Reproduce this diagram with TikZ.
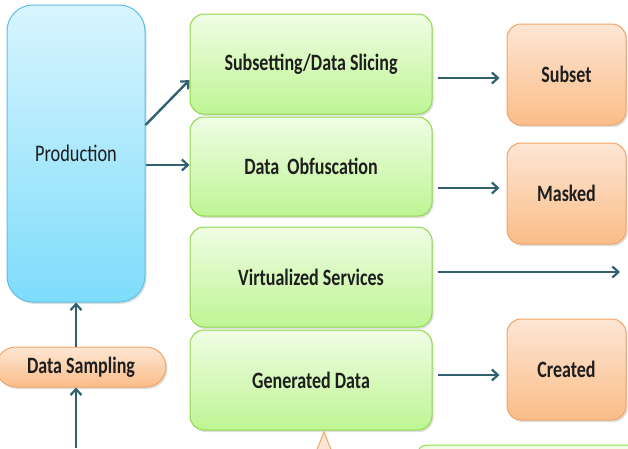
\documentclass[tikz,border=0pt]{standalone}
\usepackage{fontspec}
\setmainfont{Carlito}
\usetikzlibrary{arrows.meta,shadows}
\definecolor{arr}{HTML}{31606F}
\definecolor{cyT}{HTML}{D8F5FE}
\definecolor{cyB}{HTML}{7EDCFB}
\definecolor{cyD}{HTML}{5BC0E8}
\definecolor{grT}{HTML}{F0FDE4}
\definecolor{grB}{HTML}{BEF594}
\definecolor{grD}{HTML}{8ED84A}
\definecolor{orT}{HTML}{FDE6D4}
\definecolor{orB}{HTML}{FBBD88}
\definecolor{orD}{HTML}{F2A466}
\definecolor{txt}{HTML}{1E1E1E}
\newcommand{\tx}[1]{\scalebox{1}[1.3]{#1}}
\tikzset{
  x=1pt, y=-1pt,
  box/.style={rounded corners=14pt, line width=1pt, inner sep=0pt, text=txt,
    drop shadow={opacity=0.25, shadow xshift=1.5pt, shadow yshift=-2pt}},
  cyanbox/.style={box, draw=cyD, top color=cyT, bottom color=cyB, rounded corners=26pt},
  greenbox/.style={box, draw=grD, top color=grT, bottom color=grB},
  orangebox/.style={box, draw=orD, top color=orT, bottom color=orB},
  pill/.style={box, draw=orD, top color=orT, bottom color=orB, rounded corners=20pt},
  conn/.style={draw=arr, line width=2.4pt, -{Straight Barb[length=6pt,width=11pt,line width=2.2pt]}},
  lbl/.style={font=\fontsize{18}{20}\selectfont\bfseries, text=txt},
}
\begin{document}
\begin{tikzpicture}
\useasboundingbox (0,0) rectangle (628,448);
% Production
\node[cyanbox, minimum width=138pt, minimum height=297pt, font=\fontsize{18.3}{20}\selectfont] (prod) at (76,153.5) {\tx{Production}};
% green boxes
\node[greenbox, lbl, minimum width=242pt, minimum height=100pt] (g1) at (311,64) {\tx{Subsetting/Data Slicing}};
\node[greenbox, lbl, minimum width=242pt, minimum height=99pt] (g2) at (311,166.5) {\tx{Data\ \ Obfuscation}};
\node[greenbox, lbl, minimum width=242pt, minimum height=100pt] (g3) at (311,277) {\tx{Virtualized Services}};
\node[greenbox, lbl, minimum width=242pt, minimum height=100pt] (g4) at (311,380) {\tx{Generated Data}};
% orange boxes
\node[orangebox, lbl, minimum width=119pt, minimum height=101pt] (o1) at (566.5,74.5) {\tx{Subset}};
\node[orangebox, lbl, minimum width=119pt, minimum height=101pt] (o2) at (566.5,193.5) {\tx{Masked}};
\node[orangebox, lbl, minimum width=119pt, minimum height=101pt] (o3) at (566.5,369.5) {\tx{Created}};
% data sampling pill
\node[pill, lbl, minimum width=170pt, minimum height=40pt] (ds) at (81,367) {\tx{Data Sampling}};
% cropped shapes at the bottom
\begin{scope}
\clip (0,0) rectangle (628,448);
\draw[draw=orD, fill=orT, line width=1pt] (324,432) -- (316,452) -- (332,452) -- cycle;
\draw[draw=grD, fill=grT, line width=1pt, rounded corners=10pt] (417,470) -- (417,445) -- (640,445) -- (640,470);
\end{scope}
\coordinate (vend) at (620,272);
\coordinate (bstart) at (76,448);
% connectors
\draw[conn] (prod.east |- 0,125) -- (g1.west |- 0,80);
\draw[conn] (prod.east |- 0,165) -- (g2.west |- 0,165);
\draw[conn] ([xshift=5pt]g1.east |- 0,78) -- ([xshift=-7pt]o1.west |- 0,78);
\draw[conn] ([xshift=5pt]g2.east |- 0,188) -- ([xshift=-7pt]o2.west |- 0,188);
\draw[conn] ([xshift=5pt]g3.east |- 0,272) -- (vend);
\draw[conn] ([xshift=5pt]g4.east |- 0,375) -- ([xshift=-7pt]o3.west |- 0,375);
\draw[conn] (ds.north -| 76,0) -- (prod.south -| 76,0);
\draw[conn] (bstart) -- (ds.south -| 76,0);
\end{tikzpicture}
\end{document}
